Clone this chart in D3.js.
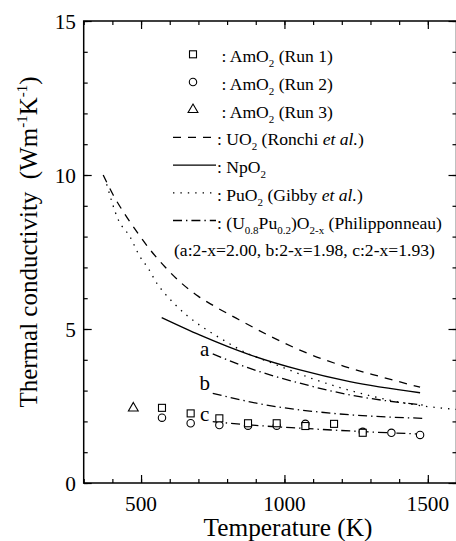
<!DOCTYPE html>
<html>
<head>
<meta charset="utf-8">
<script src="https://cdn.jsdelivr.net/npm/d3@7"></script>
<style>
  html, body { margin: 0; padding: 0; background: #fff; }
  svg { display: block; }
</style>
</head>
<body>
<svg id="chart" width="456" height="541" font-family="'Liberation Serif', 'Times New Roman', Times, serif"></svg>
<script>
// Measured AmO2 thermal conductivity (W m^-1 K^-1) vs temperature (K)
const run1T = [573, 673, 773, 873, 973, 1073, 1173, 1273];
const run1K = [2.44, 2.26, 2.10, 1.94, 1.94, 1.85, 1.92, 1.63];
const run2T = [573, 673, 773, 873, 973, 1073, 1273, 1373, 1473];
const run2K = [2.12, 1.94, 1.88, 1.86, 1.86, 1.92, 1.66, 1.63, 1.56];
const run3T = [473];
const run3K = [2.43];

// Reference curves
const uo2T = [368, 403, 444, 485, 531, 583, 642, 700, 752, 830, 952, 1078, 1208, 1336, 1473];
const uo2K = [10.0, 9.35, 8.72, 8.16, 7.58, 7.02, 6.48, 6.06, 5.76, 5.36, 4.76, 4.22, 3.79, 3.45, 3.11];
const npo2T = [572, 706, 880, 1054, 1228, 1473];
const npo2K = [5.37, 4.80, 4.16, 3.67, 3.29, 2.93];
const puo2T = [380, 421, 461, 496, 525, 554, 583, 618, 798, 868, 938, 1112, 1287, 1461, 1598];
const puo2K = [9.70, 8.54, 8.00, 7.35, 6.97, 6.50, 6.15, 5.80, 4.58, 4.22, 3.96, 3.34, 2.86, 2.53, 2.39];
const moxAT = [750, 880, 1054, 1228, 1484];
const moxAK = [4.19, 3.72, 3.24, 2.86, 2.53];
const moxBT = [750, 938, 1170, 1484];
const moxBK = [2.91, 2.53, 2.26, 2.10];
const moxCT = [750, 900, 1054, 1250, 1473];
const moxCK = [1.99, 1.87, 1.78, 1.68, 1.59];

// Axis ticks
const xMajorTicks = [500, 1000, 1500];
const yMajorTicks = [0, 5, 10, 15];

const svg = d3.select("#chart");
const pL = 83.7, pR = 456.5, pT = 21, pB = 483;

const x = d3.scaleLinear().domain([300, 1600]).range([pL, pR]);
const y = d3.scaleLinear().domain([0, 15]).range([pB, pT]);

const zip = (a, b) => a.map((v, i) => [v, b[i]]);

svg.append("defs").append("clipPath").attr("id", "plotclip")
  .append("rect").attr("x", pL).attr("y", pT)
  .attr("width", pR - pL).attr("height", pB - pT);

// Frame with inward ticks on all four sides
const xMinor = d3.range(300, 1601, 100);
const yMinor = d3.range(0, 16, 1);

function ticks(axis, pos, vals, size) {
  svg.append("g").attr("transform", pos)
    .call(axis.tickValues(vals).tickSize(size).tickFormat(""))
    .call(g => g.select(".domain").remove());
}
ticks(d3.axisTop(x), `translate(0,${pB})`, xMinor, 4);
ticks(d3.axisTop(x), `translate(0,${pB})`, xMajorTicks, 8);
ticks(d3.axisBottom(x), `translate(0,${pT})`, xMinor, 4);
ticks(d3.axisBottom(x), `translate(0,${pT})`, xMajorTicks, 8);
ticks(d3.axisRight(y), `translate(${pL},0)`, yMinor, 4);
ticks(d3.axisRight(y), `translate(${pL},0)`, yMajorTicks, 8);
ticks(d3.axisLeft(y), `translate(${pR},0)`, yMinor, 4);
ticks(d3.axisLeft(y), `translate(${pR},0)`, yMajorTicks, 8);
svg.selectAll(".tick line").attr("stroke", "#000").attr("stroke-width", 1.2);

svg.append("rect").attr("x", pL).attr("y", pT)
  .attr("width", pR - pL).attr("height", pB - pT)
  .attr("fill", "none").attr("stroke", "#000").attr("stroke-width", 1.5);

// Tick labels
svg.append("g").selectAll("text").data(xMajorTicks).join("text")
  .attr("x", d => x(d)).attr("y", 510.5)
  .attr("text-anchor", "middle").attr("font-size", 21.3)
  .text(d => d);
svg.append("g").selectAll("text").data(yMajorTicks).join("text")
  .attr("x", 76).attr("y", d => y(d) + 7.5)
  .attr("text-anchor", "end").attr("font-size", 21.3)
  .text(d => d);

// Axis titles
svg.append("text").attr("x", 288).attr("y", 536)
  .attr("text-anchor", "middle").attr("font-size", 25.3)
  .text("Temperature (K)");

const yTitle = svg.append("text")
  .attr("transform", `translate(37,${(pT + pB) / 2 - 10}) rotate(-90)`)
  .attr("text-anchor", "middle").attr("font-size", 25);
yTitle.append("tspan").text("Thermal conductivity\u00a0\u00a0(Wm");
yTitle.append("tspan").attr("font-size", 15).attr("dy", -10).text("-1");
yTitle.append("tspan").attr("dy", 10).text("K");
yTitle.append("tspan").attr("font-size", 15).attr("dy", -10).text("-1");
yTitle.append("tspan").attr("dy", 10).text(")");

// Curves
const line = d3.line().x(d => x(d[0])).y(d => y(d[1])).curve(d3.curveMonotoneX);
const plot = svg.append("g").attr("clip-path", "url(#plotclip)");
const styles = {
  dashed: "8,7",
  solid: null,
  dotted: "1.4,6",
  dashdot: "9,4,1.4,4"
};
const curves = [
  { pts: zip(uo2T, uo2K), dash: styles.dashed },
  { pts: zip(npo2T, npo2K), dash: styles.solid },
  { pts: zip(puo2T, puo2K), dash: styles.dotted },
  { pts: zip(moxAT, moxAK), dash: styles.dashdot },
  { pts: zip(moxBT, moxBK), dash: styles.dashdot },
  { pts: zip(moxCT, moxCK), dash: styles.dashdot }
];
plot.selectAll("path.curve").data(curves).join("path")
  .attr("class", "curve")
  .attr("d", d => line(d.pts))
  .attr("fill", "none").attr("stroke", "#000").attr("stroke-width", 1.3)
  .attr("stroke-dasharray", d => d.dash);

// Curve labels a, b, c just left of the start of each (U,Pu)O2-x curve
const curveLabels = [
  { t: "a", pts: zip(moxAT, moxAK), dy: 2 },
  { t: "b", pts: zip(moxBT, moxBK), dy: -3 },
  { t: "c", pts: zip(moxCT, moxCK), dy: -1 }
];
svg.append("g").selectAll("text").data(curveLabels).join("text")
  .attr("x", d => x(d.pts[0][0]) - 8)
  .attr("y", d => y(d.pts[0][1]) + d.dy)
  .attr("text-anchor", "middle").attr("font-size", 21)
  .text(d => d.t);

// Markers
const sq = 7, cr = 3.7;
function square(g, T, K) {
  g.selectAll(null).data(zip(T, K)).join("rect")
    .attr("x", d => x(d[0]) - sq / 2).attr("y", d => y(d[1]) - sq / 2)
    .attr("width", sq).attr("height", sq)
    .attr("fill", "#fff").attr("stroke", "#000").attr("stroke-width", 1.1);
}
function circle(g, T, K) {
  g.selectAll(null).data(zip(T, K)).join("circle")
    .attr("cx", d => x(d[0])).attr("cy", d => y(d[1])).attr("r", cr)
    .attr("fill", "#fff").attr("stroke", "#000").attr("stroke-width", 1.1);
}
const tri = d3.symbol().type(d3.symbolTriangle).size(42);
function triangle(g, T, K) {
  g.selectAll(null).data(zip(T, K)).join("path")
    .attr("d", tri)
    .attr("transform", d => `translate(${x(d[0])},${y(d[1])})`)
    .attr("fill", "#fff").attr("stroke", "#000").attr("stroke-width", 1.1);
}
const markers = svg.append("g");
circle(markers.append("g"), run2T, run2K);
square(markers.append("g"), run1T, run1K);
triangle(markers.append("g"), run3T, run3K);

// Legend
const lg = svg.append("g").attr("font-size", 17.6);
const rowY = i => 54.3 + i * 27.7;
const mx = 193, lx0 = 173, lx1 = 216, tx = 217;

function legendText(i, parts) {
  const t = lg.append("text").attr("x", tx).attr("y", rowY(i) + 8);
  let shifted = 0;
  parts.forEach(p => {
    const dy = (p.sub ? 5 : 0) - shifted;
    const s = t.append("tspan").attr("dy", dy).text(p.s);
    if (p.sub) s.attr("font-size", 11);
    if (p.it) s.attr("font-style", "italic");
    shifted = p.sub ? 5 : 0;
  });
  return t;
}

square(lg.append("g").attr("transform", `translate(${mx - x(0)},${rowY(0) - y(0)})`), [0], [0]);
circle(lg.append("g").attr("transform", `translate(${mx - x(0)},${rowY(1) - y(0)})`), [0], [0]);
triangle(lg.append("g").attr("transform", `translate(${mx - x(0)},${rowY(2) - y(0)})`), [0], [0]);

[[3, styles.dashed], [4, styles.solid], [5, styles.dotted], [6, styles.dashdot]].forEach(([i, dash]) => {
  lg.append("line").attr("x1", lx0).attr("x2", lx1)
    .attr("y1", rowY(i)).attr("y2", rowY(i))
    .attr("stroke", "#000").attr("stroke-width", 1.3)
    .attr("stroke-dasharray", dash);
});

legendText(0, [{ s: "\u00a0: AmO" }, { s: "2", sub: true }, { s: " (Run 1)" }]);
legendText(1, [{ s: "\u00a0: AmO" }, { s: "2", sub: true }, { s: " (Run 2)" }]);
legendText(2, [{ s: "\u00a0: AmO" }, { s: "2", sub: true }, { s: " (Run 3)" }]);
legendText(3, [{ s: ": UO" }, { s: "2", sub: true }, { s: " (Ronchi " }, { s: "et al.", it: true }, { s: ")" }]);
legendText(4, [{ s: ": NpO" }, { s: "2", sub: true }]);
legendText(5, [{ s: ": PuO" }, { s: "2", sub: true }, { s: " (Gibby " }, { s: "et al.", it: true }, { s: ")" }]);
legendText(6, [{ s: ": (U" }, { s: "0.8", sub: true }, { s: "Pu" }, { s: "0.2", sub: true }, { s: ")O" }, { s: "2-x", sub: true }, { s: " (Philipponneau)" }]);
lg.append("text").attr("x", 174).attr("y", rowY(7) + 8)
  .text("(a:2-x=2.00, b:2-x=1.98, c:2-x=1.93)");
</script>
</body>
</html>
